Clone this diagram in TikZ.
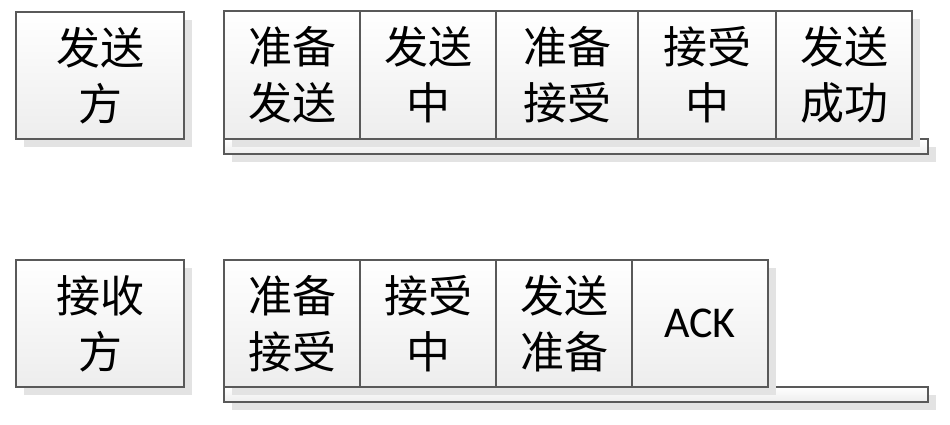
\documentclass[tikz,border=0pt]{standalone}
\usepackage{fontspec}
\setmainfont{Carlito}
\newfontfamily\cjk{Noto Sans CJK SC}
\usetikzlibrary{positioning,shadows}
\tikzset{
  box/.style={draw=black!65, line width=1.1pt, top color=white, bottom color=black!7,
    minimum height=127pt, inner sep=0pt, outer sep=0pt, align=center,
    font=\cjk\fontsize{44}{56}\selectfont,
    drop shadow={shadow xshift=8pt, shadow yshift=-8pt, fill=black!11, opacity=1}},
  bar/.style={box, minimum width=704pt, minimum height=15pt, anchor=north west},
  ack/.style={font=\fontsize{44}{50}\selectfont}
}

\begin{document}
\begin{tikzpicture}[x=1pt,y=-1pt]
\useasboundingbox (0,0) rectangle (950,424);

% sender
\node[bar] (sbar) at (224,139) {};
\node[box, minimum width=168pt, anchor=north west] (sender) at (16,12) {发送\\方};
\node[box, minimum width=136pt, minimum height=128pt, anchor=north west] (s1) at (224,11) {准备\\发送};
\node[box, minimum width=136pt, minimum height=128pt, right=0pt of s1] (s2) {发送\\中};
\node[box, minimum width=142pt, minimum height=128pt, right=0pt of s2] (s3) {准备\\接受};
\node[box, minimum width=138pt, minimum height=128pt, right=0pt of s3] (s4) {接受\\中};
\node[box, minimum width=136pt, minimum height=128pt, right=0pt of s4] (s5) {发送\\成功};

% receiver
\node[bar] (rbar) at (224,387) {};
\node[box, minimum width=168pt, anchor=north west] (receiver) at (16,260) {接收\\方};
\node[box, minimum width=136pt, anchor=north west] (r1) at (224,260) {准备\\接受};
\node[box, minimum width=136pt, right=0pt of r1] (r2) {接受\\中};
\node[box, minimum width=136pt, right=0pt of r2] (r3) {发送\\准备};
\node[box, minimum width=136pt, right=0pt of r3, ack] (r4) {ACK};

\end{tikzpicture}
\end{document}
